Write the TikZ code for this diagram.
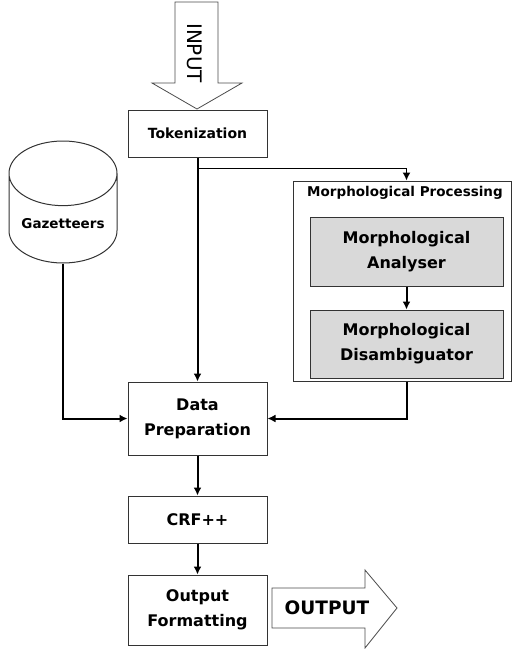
\documentclass[tikz,border=0pt]{standalone}
\usepackage{fontspec}
\setmainfont{DejaVu Sans}
\usetikzlibrary{positioning, arrows.meta, shapes.geometric, calc}
\tikzset{
  block/.style={
    draw=black!80,
    line width=1pt,
    rectangle,
    minimum width=139pt,
    align=center,
    inner sep=0pt,
    font=\bfseries\fontsize{16}{25}\selectfont
  },
  shaded/.style={
    block,
    fill=black!15,
    minimum width=193pt
  },
  link/.style={
    line width=2pt,
    -{Latex[length=8pt,width=8pt]}
  },
  bigarrow/.style={
    draw=black!70,
    line width=0.8pt,
    fill=white
  }
}
\begin{document}
\begin{tikzpicture}[x=1pt, y=-1pt]
    \useasboundingbox (0,0) rectangle (512,649);
    % input arrow
    \draw[bigarrow] (175,2) -- (218,2) -- (218,83) -- (242,83) -- (197,109) -- (152,83) -- (175,83) -- cycle;
    \node[rotate=-90, font=\fontsize{20}{20}\selectfont] (intext) at (195,53) {INPUT};

    \node[block, minimum height=47pt, font=\bfseries\fontsize{14}{17}\selectfont] (tok) at (197.5,133.5) {Tokenization};
    \node[draw=black!80, line width=1pt, cylinder, shape border rotate=90, aspect=0.72,
          minimum width=108pt, minimum height=122pt, font=\bfseries\fontsize{13.5}{16}\selectfont] (gaz) at (63,224) {Gazetteers};

    % morphological processing
    \node[draw=black!80, line width=1pt, minimum width=218pt, minimum height=200pt, inner sep=0pt] (mp) at (402,281) {};
    \node[font=\bfseries\fontsize{13.5}{15}\selectfont] (mptitle) at (405,193) {Morphological Processing};
    \node[shaded, minimum height=69pt] (ana) at (406.5,251.5) {Morphological\\Analyser};
    \node[shaded, minimum height=68pt] (dis) at (406.5,344) {Morphological\\Disambiguator};

    \node[block, minimum height=73pt] (prep) at (197.5,418.5) {Data\\Preparation};
    \node[block, minimum height=47pt] (crf) at (197.5,519.5) {CRF++};
    \node[block, minimum height=70pt] (out) at (197.5,610) {Output\\Formatting};

    % output arrow
    \draw[bigarrow] (272,588) -- (365,588) -- (365,570) -- (397,608) -- (365,648) -- (365,628) -- (272,628) -- cycle;
    \node[font=\bfseries\fontsize{18.5}{19}\selectfont] (outtext) at (327,608) {OUTPUT};

    \coordinate (split) at ($(tok.south)+(0,11)$);
    \draw[link] (tok) -- (prep);
    \draw[link, line width=1.4pt] (split) -| (mp.north -| ana.north);
    \draw[link] (ana) -- (dis);
    \draw[link] (mp.south -| dis.south) |- (prep.east);
    \draw[link] (gaz.south) |- (prep.west);
    \draw[link] (prep) -- (crf);
    \draw[link] (crf) -- (out);
\end{tikzpicture}
\end{document}
